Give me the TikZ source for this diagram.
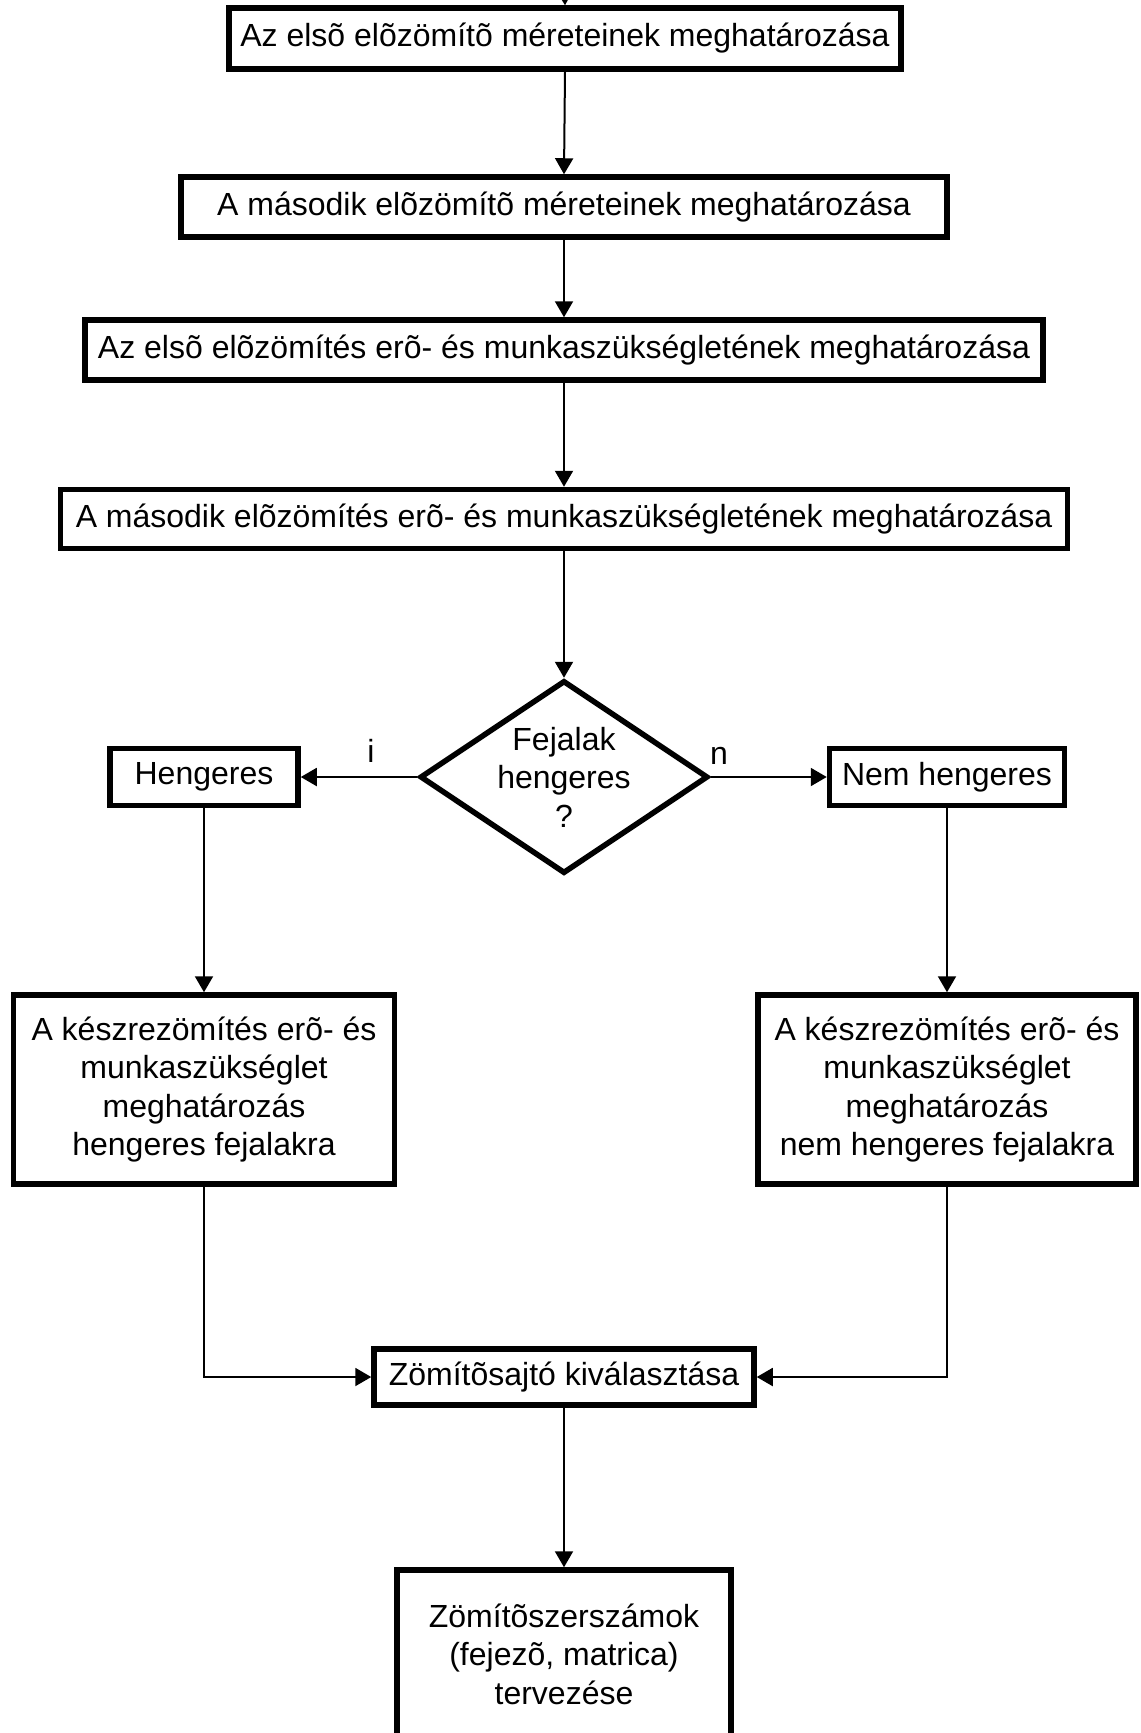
\documentclass[tikz,border=0pt]{standalone}
\usepackage{fontspec}
\setmainfont{Liberation Sans}
\usetikzlibrary{arrows.meta,shapes.geometric}
\begin{document}
\begin{tikzpicture}[x=1pt,y=-1pt,
  box/.style={draw,line width=5.5pt,inner sep=0pt,align=center,
    font=\fontsize{32}{38.5}\selectfont},
  diam/.style={draw,shape=diamond,line width=5.5pt,inner sep=0pt,
    minimum width=288pt,minimum height=193pt},
  txt/.style={inner sep=0pt,align=center,font=\fontsize{32}{38.5}\selectfont},
  arr/.style={line width=2pt,-{Triangle[length=16pt,width=18pt]}},
  conn/.style={line width=2pt}]
\useasboundingbox (0,0) rectangle (1141,1733);
\clip (0,0) rectangle (1141,1733);
\fill[white] (0,0) rectangle (1141,1733);

\node[box,minimum width=672pt,minimum height=61pt] (b1) at (565,38.5)
  {Az elsõ elõzömítõ méreteinek meghatározása};
\node[box,minimum width=766pt,minimum height=60pt] (b2) at (564,207)
  {A második elõzömítõ méreteinek meghatározása};
\node[box,minimum width=958pt,minimum height=60pt] (b3) at (564,350)
  {Az elsõ elõzömítés erõ- és munkaszükségletének meghatározása};
\node[box,minimum width=1007pt,minimum height=59pt] (b4) at (564,519)
  {A második elõzömítés erõ- és munkaszükségletének meghatározása};

\node[diam] (d) at (564,777) {};
\node[txt] (dt) at (564,777) {Fejalak\\hengeres\\?};

\node[box,minimum width=188pt,minimum height=57pt] (hen) at (204,777) {Hengeres};
\node[box,minimum width=235pt,minimum height=57pt] (nem) at (947,777) {Nem hengeres};
\node[txt] (li) at (371,751) {i};
\node[txt] (ln) at (719,756) {n};

\node[box,minimum width=381pt,minimum height=189pt] (bl) at (204,1089.5)
  {A készrezömítés erõ- és\\munkaszükséglet\\meghatározás\\hengeres fejalakra};
\node[box,minimum width=378pt,minimum height=189pt] (br) at (947,1089.5)
  {A készrezömítés erõ- és\\munkaszükséglet\\meghatározás\\nem hengeres fejalakra};

\node[box,minimum width=380pt,minimum height=56pt] (zom) at (564,1377)
  {Zömítõsajtó kiválasztása};
\node[box,minimum width=334pt,minimum height=168pt] (bot) at (564,1654)
  {Zömítõszerszámok\\(fejezõ, matrica)\\tervezése};

\coordinate (top) at (564,-40);
\draw[arr] (top) -- (b1.north);
\draw[arr] (b1.south) -- (b2.north);
\draw[arr] (b2.south) -- (b3.north);
\draw[arr] (b3.south) -- (b4.north);
\draw[arr] (b4.south) -- (d.north);
\draw[arr] (d.west) -- (hen.east);
\draw[arr] (d.east) -- (nem.west);
\draw[arr] (hen.south) -- (bl.north);
\draw[arr] (nem.south) -- (br.north);
\draw[arr] (bl.south) |- (zom.west);
\draw[arr] (br.south) |- (zom.east);
\draw[arr] (zom.south) -- (bot.north);
\end{tikzpicture}
\end{document}
